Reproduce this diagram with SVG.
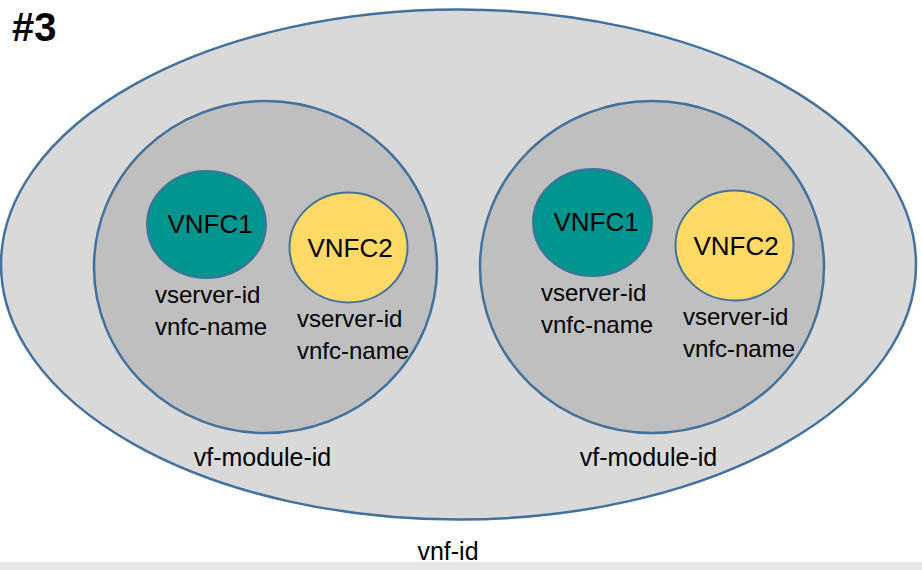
<svg xmlns="http://www.w3.org/2000/svg" width="922" height="570" viewBox="0 0 922 570">
  <style>
    text { font-family: "Liberation Sans", Arial, sans-serif; fill: #000; }
    .vnf { fill: #d9d9d9; stroke: #41719c; stroke-width: 2.5; }
    .mod { fill: #bfbfbf; stroke: #41719c; stroke-width: 2.5; }
    .teal { fill: #00968f; stroke: #41719c; stroke-width: 2; }
    .gold { fill: #ffd966; stroke: #41719c; stroke-width: 2; }
    .big { font-size: 26px; text-anchor: middle; }
    .lbl { font-size: 24px; }
    .cap { font-size: 25px; text-anchor: middle; }
  </style>
  <rect width="922" height="570" fill="#ffffff"/>

  <text x="12" y="41" style="font-size:40px;font-weight:bold">#3</text>

  <g id="vnf">
    <ellipse class="vnf" cx="458.5" cy="264.5" rx="457.5" ry="255"/>
  </g>

  <g id="vf-module-1">
    <ellipse class="mod" cx="265.5" cy="267" rx="171.5" ry="166"/>
    <text class="cap" x="262.5" y="466">vf-module-id</text>
  </g>
  <g id="vnfc1-a">
    <ellipse class="teal" cx="206.5" cy="224.5" rx="59.5" ry="53.5"/>
    <text class="big" x="210" y="233">VNFC1</text>
    <text class="lbl" x="155" y="303">vserver-id</text>
    <text class="lbl" x="155" y="335">vnfc-name</text>
  </g>
  <g id="vnfc2-a">
    <ellipse class="gold" cx="348.5" cy="247.5" rx="59" ry="55"/>
    <text class="big" x="350" y="257">VNFC2</text>
    <text class="lbl" x="297" y="327">vserver-id</text>
    <text class="lbl" x="297" y="359">vnfc-name</text>
  </g>

  <g id="vf-module-2">
    <ellipse class="mod" cx="652" cy="267" rx="172" ry="166"/>
    <text class="cap" x="648.5" y="466">vf-module-id</text>
  </g>
  <g id="vnfc1-b">
    <ellipse class="teal" cx="592.5" cy="222.5" rx="59.5" ry="53.5"/>
    <text class="big" x="596" y="231">VNFC1</text>
    <text class="lbl" x="541" y="301">vserver-id</text>
    <text class="lbl" x="541" y="333">vnfc-name</text>
  </g>
  <g id="vnfc2-b">
    <ellipse class="gold" cx="734.5" cy="245.5" rx="59" ry="55"/>
    <text class="big" x="736" y="255">VNFC2</text>
    <text class="lbl" x="683" y="325">vserver-id</text>
    <text class="lbl" x="683" y="357">vnfc-name</text>
  </g>

  <text class="cap" x="448" y="560">vnf-id</text>

  <!-- bottom band -->
  <rect x="0" y="562" width="922" height="8" fill="#e6e6e6"/>
</svg>
